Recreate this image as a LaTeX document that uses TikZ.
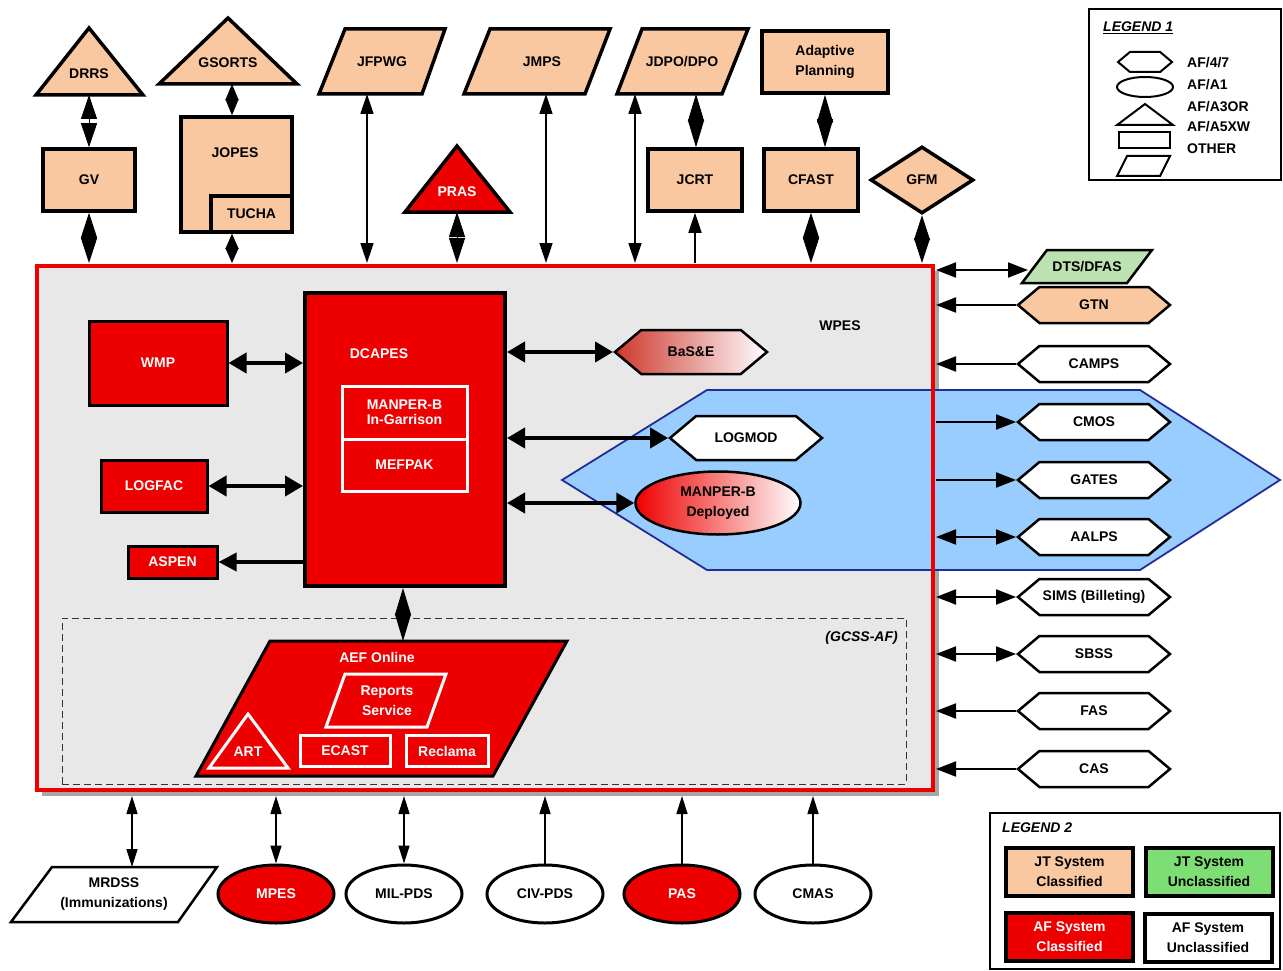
\documentclass[tikz,border=0pt]{standalone}
\usepackage{fontspec}
\setmainfont{Liberation Sans}
\usetikzlibrary{arrows.meta,shapes.geometric,shapes.symbols}
\definecolor{peach}{RGB}{250,200,160}
\definecolor{afred}{RGB}{238,0,0}
\definecolor{dtsgreen}{RGB}{188,226,178}
\definecolor{leggreen}{RGB}{125,222,115}
\definecolor{bluefill}{RGB}{153,204,255}
\definecolor{blueline}{RGB}{35,45,150}
\definecolor{wpesgray}{RGB}{232,232,232}
\definecolor{basred}{RGB}{205,55,45}
\begin{document}
\begin{tikzpicture}[x=1pt,y=-1pt,
  font=\fontsize{14}{20}\selectfont\bfseries,
  every node/.style={inner sep=0pt, align=center},
  jt/.style={draw=black, line width=3.5pt, fill=peach},
  afbox/.style={draw=black, line width=3pt, fill=afred, text=white},
  shp/.style={draw=black, line width=3.5pt, line join=miter},
  hexa/.style={signal, signal to=east and west, signal pointer angle=80, draw=black, line width=2.5pt, fill=white, minimum width=152pt, minimum height=36pt},
  oval/.style={ellipse, draw=black, line width=3pt, fill=white, minimum width=116pt, minimum height=58pt},
  dia/.style={line width=1pt, {Triangle[length=#1,width=16pt]}-{Triangle[length=#1,width=16pt]}},
  dias/.style={line width=1pt, {Triangle[length=#1,width=13pt]}-{Triangle[length=#1,width=13pt]}},
  tw/.style={line width=1.6pt, {Triangle[length=20pt,width=13pt]}-{Triangle[length=20pt,width=13pt]}},
  twup/.style={line width=1.6pt, -{Triangle[length=20pt,width=13pt]}},
  big/.style={line width=4pt, {Triangle[length=18pt,width=20pt]}-{Triangle[length=18pt,width=20pt]}},
  bigone/.style={line width=3.5pt, -{Triangle[length=18pt,width=18pt]}},
  sd/.style={line width=2pt, {Triangle[length=20pt,width=15pt]}-{Triangle[length=20pt,width=15pt]}},
  sone/.style={line width=2pt, -{Triangle[length=20pt,width=15pt]}},
  bd/.style={line width=1.6pt, {Triangle[length=18pt,width=11pt]}-{Triangle[length=18pt,width=11pt]}},
  bone/.style={line width=1.6pt, -{Triangle[length=18pt,width=11pt]}},
  legtitle/.style={anchor=west, font=\fontsize{14}{16}\selectfont\bfseries\itshape},
]
\useasboundingbox (0,0) rectangle (1283,971);

% ---------------- WPES frame ----------------
\fill[gray!70] (42,271) rectangle (939,796);
\node[fill=wpesgray, minimum width=896pt, minimum height=524pt] (wpes) at (485,528) {};
\filldraw[draw=blueline, fill=bluefill, line width=1.8pt] (562,480) -- (707,390) -- (1140,390) -- (1280,480) -- (1140,570) -- (707,570) -- cycle;
\draw[afred, line width=4pt] (wpes.north west) rectangle (wpes.south east);
\node (wpesT) at (840,326) {WPES};
\coordinate (wT) at (0,263);
\coordinate (wR) at (936,0);
\coordinate (wB) at (0,796);

% ---------------- top row ----------------
\filldraw[shp, fill=peach] (36,95) -- (89,28) -- (143,95) -- cycle;
\node (drrs) at (89,74) {DRRS};
\coordinate (drrsB) at (89,95);
\filldraw[shp, fill=peach] (159,84) -- (228,18) -- (297,84) -- cycle;
\node (gsorts) at (228,63) {GSORTS};
\coordinate (gsortsB) at (232,84);
\node[jt, minimum width=92pt, minimum height=62pt] (gv) at (89,180) {GV};
\node[jt, minimum width=111pt, minimum height=115pt] (jopes) at (236.5,174.5) {};
\node (jopesT) at (235,153) {JOPES};
\node[jt, minimum width=81pt, minimum height=36pt, anchor=south east] (tucha) at (jopes.south east) {TUCHA};
\filldraw[shp, fill=peach] (319,94) -- (345,29) -- (445,29) -- (422,94) -- cycle;
\node (jfpwg) at (382,62) {JFPWG};
\coordinate (jfpwgB) at (367,94);
\filldraw[shp, fill=afred] (405,212) -- (457,146) -- (510,212) -- cycle;
\node[text=white] (pras) at (457,192) {PRAS};
\coordinate (prasB) at (457,212);
\filldraw[shp, fill=peach] (464,94) -- (490,29) -- (610,29) -- (585,94) -- cycle;
\node (jmps) at (542,62) {JMPS};
\coordinate (jmpsB) at (546,94);
\filldraw[shp, fill=peach] (617,94) -- (642,29) -- (748,29) -- (722,94) -- cycle;
\node (jdpo) at (682,62) {JDPO/DPO};
\coordinate (jdpoB1) at (635,94);
\coordinate (jdpoB2) at (696,94);
\node[jt, minimum width=126pt, minimum height=62pt] (ap) at (825,62) {Adaptive\\Planning};
\node[jt, minimum width=94pt, minimum height=62pt] (jcrt) at (695,180) {JCRT};
\node[jt, minimum width=94pt, minimum height=62pt] (cfast) at (811,180) {CFAST};
\node[diamond, aspect=1.54, draw=black, line width=3.5pt, fill=peach, minimum width=103pt, minimum height=67pt] (gfm) at (922,180) {GFM};

\draw[dia=24pt] (drrsB) -- (gv.north);
\draw[dia=25pt] (gv.south) -- (gv.south |- wT);
\draw[dias=16pt] (gsortsB) -- (gsortsB |- jopes.north);
\draw[dias=15pt] (jopes.south -| gsortsB) -- (gsortsB |- wT);
\draw[tw] (jfpwgB) -- (jfpwgB |- wT);
\draw[dia=25pt] (prasB) -- (prasB |- wT);
\draw[tw] (jmpsB) -- (jmpsB |- wT);
\draw[tw] (jdpoB1) -- (jdpoB1 |- wT);
\draw[dia=27pt] (jdpoB2) -- (jdpoB2 |- jcrt.north);
\draw[twup] (jcrt.south |- wT) -- (jcrt.south);
\draw[dia=28pt] (ap.south) -- (ap.south |- cfast.north);
\draw[dia=25pt] (cfast.south) -- (cfast.south |- wT);
\draw[dia=25pt] (gfm.south) -- (gfm.south |- wT);

% ---------------- inside WPES ----------------
\node[afbox, minimum width=138pt, minimum height=84pt] (wmp) at (158,363) {WMP};
\node[afbox, line width=4pt, minimum width=200pt, minimum height=293pt] (dcapes) at (405,439.5) {};
\node[text=white] (dcapesT) at (379,354) {DCAPES};
\node[draw=white, line width=3pt, minimum width=125pt, minimum height=53pt, text=white, align=left, font=\fontsize{14}{15}\selectfont\bfseries] (manperg) at (404.5,412.5) {MANPER-B\\In-Garrison};
\node[draw=white, line width=3pt, minimum width=125pt, minimum height=52pt, text=white] (mefpak) at (404.5,465) {MEFPAK};
\node[afbox, minimum width=106pt, minimum height=52pt] (logfac) at (154,486) {LOGFAC};
\node[afbox, minimum width=89pt, minimum height=32pt] (aspen) at (172.5,562) {ASPEN};

\node[hexa, minimum height=44pt, left color=basred, right color=white] (base) at (691,352) {BaS\&E};
\node[hexa, minimum height=44pt] (logmod) at (746,438) {LOGMOD};
\node[oval, line width=2.5pt, minimum width=165pt, minimum height=63pt, left color=afred, right color=white] (manperd) at (718,503) {MANPER-B\\Deployed};

\draw[big] (wmp.east) -- (dcapes.west |- wmp.east);
\draw[big] (logfac.east) -- (dcapes.west |- logfac.east);
\draw[bigone] (dcapes.west |- aspen.east) -- (aspen.east);
\draw[big] (dcapes.east |- base.west) -- (base.west);
\draw[big] (dcapes.east |- logmod.west) -- (logmod.west);
\draw[big] (dcapes.east |- manperd.west) -- (manperd.west);

% GCSS-AF
\node[draw=gray!40!black, dash pattern=on 7pt off 4pt, line width=1pt, minimum width=844pt, minimum height=166pt] (gcss) at (484,701) {};
\node[legtitle, anchor=east] (gcssT) at (898,638) {(GCSS-AF)};
\filldraw[draw=black, fill=afred, line width=3pt] (196,776) -- (270,641) -- (567,641) -- (493,776) -- cycle;
\node[text=white] (aef) at (377,657) {AEF Online};
\coordinate (aefT) at (403,641);
\draw[white, line width=3pt] (326,727) -- (345,674) -- (446,674) -- (427,727) -- cycle;
\node[text=white] (reports) at (387,701) {Reports\\Service};
\draw[white, line width=3pt] (209,768) -- (248,714) -- (288,768) -- cycle;
\node[text=white] (art) at (248,752) {ART};
\node[draw=white, line width=3pt, minimum width=90pt, minimum height=31pt, text=white] (ecast) at (345,751) {ECAST};
\node[draw=white, line width=3pt, minimum width=82pt, minimum height=31pt, text=white] (reclama) at (447,751) {Reclama};
\draw[dia=27pt] (dcapes.south -| aefT) -- (aefT);

% ---------------- right column ----------------
\filldraw[draw=black, line width=2.5pt, fill=dtsgreen] (1022,283) -- (1047,250) -- (1152,250) -- (1127,283) -- cycle;
\node (dts) at (1087,267) {DTS/DFAS};
\coordinate (dtsL) at (1028,270);
\node[hexa, fill=peach] (gtn) at (1094,305) {GTN};
\node[hexa] (camps) at (1094,364) {CAMPS};
\node[hexa] (cmos) at (1094,422) {CMOS};
\node[hexa] (gates) at (1094,480) {GATES};
\node[hexa] (aalps) at (1094,537) {AALPS};
\node[hexa] (sims) at (1094,597) {SIMS (Billeting)};
\node[hexa] (sbss) at (1094,654) {SBSS};
\node[hexa] (fas) at (1094,711) {FAS};
\node[hexa] (cas) at (1094,769) {CAS};
\draw[sd] (wR |- dtsL) -- (dtsL);
\draw[sone] (gtn.west) -- (wR |- gtn.west);
\draw[sone] (camps.west) -- (wR |- camps.west);
\draw[sone] (wR |- cmos.west) -- (cmos.west);
\draw[sone] (wR |- gates.west) -- (gates.west);
\draw[sd] (wR |- aalps.west) -- (aalps.west);
\draw[sd] (wR |- sims.west) -- (sims.west);
\draw[sd] (wR |- sbss.west) -- (sbss.west);
\draw[sone] (fas.west) -- (wR |- fas.west);
\draw[sone] (cas.west) -- (wR |- cas.west);

% ---------------- bottom row ----------------
\filldraw[draw=black, line width=2.5pt, fill=white] (11,922) -- (52,867) -- (217,867) -- (178,922) -- cycle;
\node (mrdss) at (114,894) {MRDSS\\(Immunizations)};
\coordinate (mrdssT) at (132,867);
\node[oval, fill=afred, text=white] (mpes) at (276,894) {MPES};
\node[oval] (milpds) at (404,894) {MIL-PDS};
\node[oval] (civpds) at (545,894) {CIV-PDS};
\node[oval, fill=afred, text=white] (pas) at (682,894) {PAS};
\node[oval] (cmas) at (813,894) {CMAS};
\draw[bd] (mrdssT |- wB) -- (mrdssT);
\draw[bd] (mpes.north |- wB) -- (mpes.north);
\draw[bd] (milpds.north |- wB) -- (milpds.north);
\draw[bone] (civpds.north) -- (civpds.north |- wB);
\draw[bone] (pas.north) -- (pas.north |- wB);
\draw[bone] (cmas.north) -- (cmas.north |- wB);

% ---------------- legend 1 ----------------
\node[draw=black, line width=1.5pt, minimum width=192pt, minimum height=171pt] (leg1) at (1185,94.5) {};
\node[legtitle] (leg1t) at (1103,28) {\underline{LEGEND 1}};
\node[signal, signal to=east and west, signal pointer angle=80, draw=black, line width=2pt, minimum width=54pt, minimum height=20pt] (l1hex) at (1145,62) {};
\node[ellipse, draw=black, line width=2pt, minimum width=56pt, minimum height=20pt] (l1ell) at (1145,87) {};
\draw[line width=2pt] (1117,125) -- (1145,104) -- (1173,125) -- cycle;
\node[draw=black, line width=2pt, minimum width=51pt, minimum height=16pt] (l1rect) at (1144.5,140) {};
\draw[line width=2pt] (1117,176) -- (1127,156) -- (1170,156) -- (1160,176) -- cycle;
\node[anchor=west] (l1a) at (1187,63) {AF/4/7};
\node[anchor=west] (l1b) at (1187,85) {AF/A1};
\node[anchor=west] (l1c) at (1187,107) {AF/A3OR};
\node[anchor=west] (l1d) at (1187,127) {AF/A5XW};
\node[anchor=west] (l1e) at (1187,149) {OTHER};

% ---------------- legend 2 ----------------
\node[draw=black, line width=1.5pt, minimum width=290pt, minimum height=156pt] (leg2) at (1135,891) {};
\node[legtitle] (leg2t) at (1002,828) {LEGEND 2};
\node[jt, line width=4pt, minimum width=127pt, minimum height=48pt] (l2a) at (1069.5,872) {JT System\\Classified};
\node[jt, fill=leggreen, line width=4pt, minimum width=127pt, minimum height=48pt] (l2b) at (1209,872) {JT System\\Unclassified};
\node[afbox, line width=4pt, minimum width=127pt, minimum height=48pt] (l2c) at (1069.5,937) {AF System\\Classified};
\node[draw=black, fill=white, line width=4pt, minimum width=127pt, minimum height=48pt] (l2d) at (1208,938) {AF System\\Unclassified};
\end{tikzpicture}
\end{document}
